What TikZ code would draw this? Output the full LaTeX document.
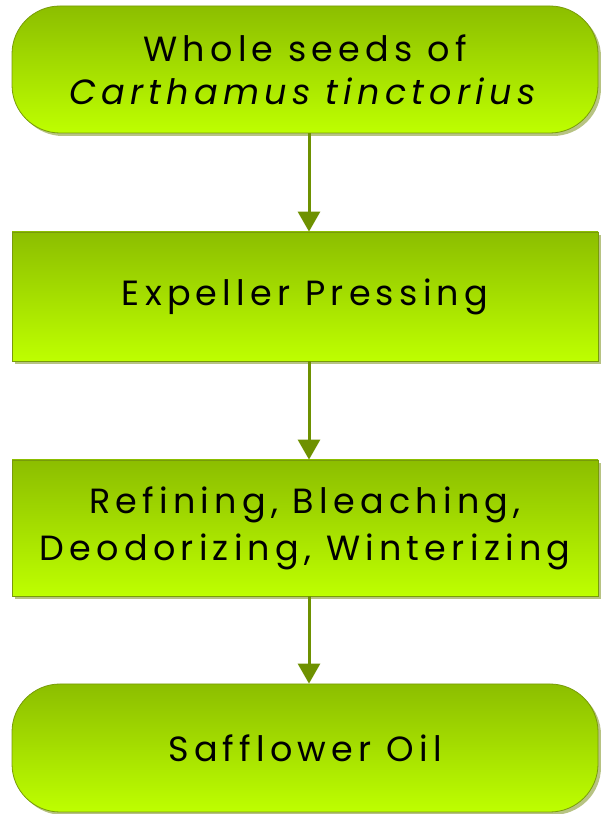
\documentclass[tikz,border=0pt]{standalone}
\usepackage{fontspec}
\setmainfont{Poppins}[LetterSpace=15]
\usetikzlibrary{arrows.meta,shadows}
\definecolor{gtop}{RGB}{140,190,0}
\definecolor{gbot}{RGB}{190,255,0}
\definecolor{gedge}{RGB}{120,155,10}
\definecolor{garrow}{RGB}{110,145,0}
\definecolor{gshadow}{RGB}{165,180,100}
\tikzset{
  box/.style={draw=gedge, line width=0.8pt, top color=gtop, bottom color=gbot,
    minimum width=586pt, align=center, inner sep=0pt,
    font=\fontsize{35}{47}\selectfont,
    drop shadow={shadow xshift=3pt, shadow yshift=-3pt, fill=gshadow, opacity=0.8}},
  roundbox/.style={box, rounded corners=48pt},
  flow/.style={draw=garrow, line width=3pt, -{Triangle[width=22pt,length=20pt]}}
}
\begin{document}
\begin{tikzpicture}[x=1pt,y=1pt]
\useasboundingbox (0,0) rectangle (600,814);
\node[roundbox, minimum height=127pt, font=\fontsize{35}{43}\selectfont] (n1) at (305,744.5) {Whole seeds of\\\textit{Carthamus tinctorius}};
\node[box, minimum height=129pt] (n2) at (305,517.5) {Expeller Pressing};
\node[box, minimum height=136pt] (n3) at (305,286) {Refining, Bleaching,\\Deodorizing, Winterizing};
\node[roundbox, minimum height=128pt] (n4) at (305,66) {Safflower Oil};
\draw[flow] (n1.south -| 309,0) -- (n2.north -| 309,0);
\draw[flow] (n2.south -| 309,0) -- (n3.north -| 309,0);
\draw[flow] (n3.south -| 309,0) -- (n4.north -| 309,0);
\end{tikzpicture}
\end{document}
